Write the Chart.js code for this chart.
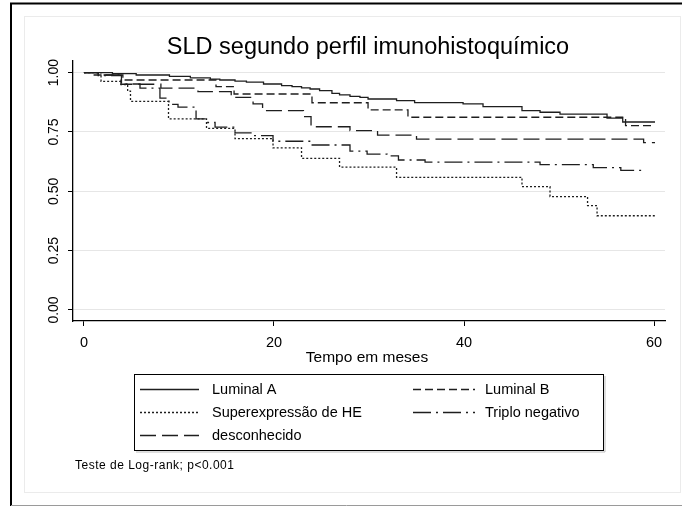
<!DOCTYPE html>
<html>
<head>
<meta charset="utf-8">
<script src="https://cdn.jsdelivr.net/npm/chart.js@4.4.1/dist/chart.umd.min.js"></script>
<style>
  html, body { margin: 0; padding: 0; background: #fff; }
  #wrap { position: relative; width: 682px; height: 506px; }
</style>
</head>
<body>
<div id="wrap"><canvas id="sld" width="682" height="506"></canvas></div>
<script>
// ---------------------------------------------------------
// Dados (tempo em meses -> sobrevida)
// ---------------------------------------------------------
const tempoLumA = [0, 3, 5.5, 9, 11.2, 13.3, 14.3, 15.9, 17.1, 18.9, 20.8, 21.9, 22.9, 23.8, 24.8, 26.1, 26.9, 28, 29.05, 29.9, 32.9, 34.8, 39.9, 42, 46.1, 48, 50.1, 55.05, 56.7, 60.1];
const sobrLumA  = [1, 0.996, 0.99, 0.984, 0.978, 0.973, 0.969, 0.964, 0.960, 0.952, 0.945, 0.941, 0.936, 0.931, 0.924, 0.913, 0.906, 0.900, 0.896, 0.889, 0.882, 0.874, 0.868, 0.857, 0.840, 0.833, 0.825, 0.808, 0.792, 0.792];

const tempoLumB = [0, 0.8, 4.1, 13.9, 15.8, 24, 29.9, 34.1, 57, 60.1];
const sobrLumB  = [1, 0.99, 0.969, 0.941, 0.910, 0.873, 0.843, 0.812, 0.777, 0.777];

const tempoHE = [0, 1.8, 3.9, 4.6, 4.9, 8.9, 12.9, 15.9, 19.9, 22.9, 26.9, 32.9, 46.1, 49.05, 53, 54, 60.1];
const sobrHE  = [1, 0.963, 0.950, 0.922, 0.879, 0.805, 0.765, 0.722, 0.683, 0.639, 0.602, 0.559, 0.520, 0.478, 0.440, 0.397, 0.397];

const tempoTN = [0, 1.5, 3.95, 5.9, 8.0, 8.95, 9.9, 11.8, 12.9, 13.8, 15.9, 17.8, 19.9, 23.9, 28, 29.8, 31.9, 33.1, 35.9, 48, 53.6, 56.5, 59.1];
const sobrTN  = [1, 0.988, 0.952, 0.935, 0.893, 0.866, 0.855, 0.805, 0.790, 0.770, 0.746, 0.735, 0.711, 0.695, 0.669, 0.657, 0.649, 0.632, 0.623, 0.612, 0.600, 0.588, 0.588];

const tempoDesc = [0, 1.5, 3.9, 8.1, 12, 15.5, 17.8, 18.8, 23.1, 23.9, 28, 30.9, 35, 58.9, 60.1];
const sobrDesc  = [1, 0.99, 0.951, 0.935, 0.920, 0.896, 0.868, 0.840, 0.815, 0.772, 0.756, 0.737, 0.720, 0.705, 0.705];

const grupos = ['Luminal A', 'Luminal B', 'Superexpressão de HE', 'Triplo negativo', 'desconhecido'];
const xTicks = [0, 20, 40, 60];
const yTicks = [0, 0.25, 0.5, 0.75, 1];
const yLabels = ['0.00', '0.25', '0.50', '0.75', '1.00'];

// estilos das linhas (padrão Stata s2mono)
const tracos = [[], [8, 4], [2, 2], [18, 5, 2, 5], [16, 6]];

const FONTE = "'Liberation Sans', Arial, sans-serif";
const COR = '#1e1e1e';

function pontos(tempos, sobr) {
    return tempos.map((t, i) => ({ x: t, y: sobr[i] }));
}

const series = [
    pontos(tempoLumA, sobrLumA),
    pontos(tempoLumB, sobrLumB),
    pontos(tempoHE, sobrHE),
    pontos(tempoTN, sobrTN),
    pontos(tempoDesc, sobrDesc)
];

// ---------------------------------------------------------
// Moldura, título, rótulos do eixo y, legenda e nota
// ---------------------------------------------------------
const molduraStata = {
    id: 'molduraStata',
    beforeDraw(chart) {
        const ctx = chart.ctx;
        ctx.save();
        ctx.fillStyle = '#fff';
        ctx.fillRect(0, 0, chart.width, chart.height);
        // região interna clara
        ctx.strokeStyle = '#ebebeb';
        ctx.lineWidth = 1;
        ctx.strokeRect(24.5, 16.5, 656, 476);
        // borda externa
        ctx.strokeStyle = '#000';
        ctx.lineWidth = 2;
        ctx.beginPath();
        ctx.moveTo(11, 506);
        ctx.lineTo(11, 3.5);
        ctx.lineTo(682, 3.5);
        ctx.stroke();
        ctx.strokeStyle = '#9a9a9a';
        ctx.lineWidth = 1;
        ctx.beginPath();
        ctx.moveTo(11, 505.5);
        ctx.lineTo(682, 505.5);
        ctx.stroke();
        ctx.restore();
    },
    afterDraw(chart) {
        const ctx = chart.ctx;
        const ys = chart.scales.y;
        ctx.save();
        ctx.fillStyle = '#000';

        // título
        ctx.font = '23.5px ' + FONTE;
        ctx.textAlign = 'center';
        ctx.textBaseline = 'alphabetic';
        ctx.fillText('SLD segundo perfil imunohistoquímico', 368, 54);

        // rótulos do eixo y (rotacionados)
        ctx.font = '14px ' + FONTE;
        yTicks.forEach((v, i) => {
            ctx.save();
            ctx.translate(58, ys.getPixelForValue(v));
            ctx.rotate(-Math.PI / 2);
            ctx.fillText(yLabels[i], 0, 0);
            ctx.restore();
        });

        // título do eixo x
        ctx.font = '15.5px ' + FONTE;
        ctx.fillText('Tempo em meses', 367, 362);

        // legenda
        ctx.strokeStyle = '#000';
        ctx.lineWidth = 1;
        ctx.strokeRect(134.5, 374.5, 469, 76);
        ctx.strokeStyle = '#bdbdbd';
        ctx.beginPath();
        ctx.moveTo(605, 376);
        ctx.lineTo(605, 452);
        ctx.lineTo(136, 452);
        ctx.stroke();

        const pos = [
            [140, 199, 212, 389], [413, 475, 485, 389],
            [140, 199, 212, 412], [413, 475, 485, 412],
            [140, 199, 212, 435]
        ];
        ctx.font = '14.5px ' + FONTE;
        ctx.textAlign = 'left';
        ctx.textBaseline = 'middle';
        chart.data.datasets.forEach((ds, i) => {
            const [a, b, tx, ty] = pos[i];
            ctx.strokeStyle = ds.borderColor;
            ctx.lineWidth = ds.borderWidth;
            ctx.setLineDash(ds.borderDash);
            ctx.beginPath();
            ctx.moveTo(a, Math.round(ty) + 0.5);
            ctx.lineTo(b, Math.round(ty) + 0.5);
            ctx.stroke();
            ctx.setLineDash([]);
            ctx.fillText(ds.label, tx, ty + 1);
        });

        // nota
        ctx.font = '12px ' + FONTE;
        ctx.letterSpacing = '0.5px';
        ctx.textBaseline = 'alphabetic';
        ctx.fillText('Teste de Log-rank; p<0.001', 75, 469);
        ctx.restore();
    }
};

new Chart(document.getElementById('sld'), {
    type: 'line',
    data: {
        datasets: series.map((dados, i) => ({
            label: grupos[i],
            data: dados,
            borderColor: COR,
            borderWidth: 1.3,
            borderDash: tracos[i],
            stepped: true,
            pointRadius: 0,
            fill: false
        }))
    },
    options: {
        responsive: false,
        animation: false,
        devicePixelRatio: 1,
        layout: { padding: { left: 0, right: 17, top: 61, bottom: 0 } },
        plugins: { legend: { display: false }, tooltip: { enabled: false } },
        scales: {
            x: {
                type: 'linear',
                min: -1.15,
                max: 61.15,
                afterBuildTicks: s => { s.ticks = xTicks.map(v => ({ value: v })); },
                afterFit: s => { s.height = 185; },
                grid: { drawOnChartArea: false, drawTicks: true, tickLength: 5, tickColor: '#000', tickWidth: 1 },
                border: { display: true, color: '#000', width: 1.3 },
                ticks: { color: '#000', font: { family: FONTE, size: 14.5 }, padding: 8, maxRotation: 0 }
            },
            y: {
                type: 'linear',
                min: -0.0464,
                max: 1.049,
                afterBuildTicks: s => { s.ticks = yTicks.map(v => ({ value: v })); },
                afterFit: s => { s.width = 73; },
                grid: { color: '#e6e6e6', lineWidth: 1, drawTicks: true, tickLength: 5, tickColor: '#000', tickWidth: 1 },
                border: { display: true, color: '#000', width: 1.3 },
                ticks: { display: false }
            }
        }
    },
    plugins: [molduraStata]
});
</script>
</body>
</html>
